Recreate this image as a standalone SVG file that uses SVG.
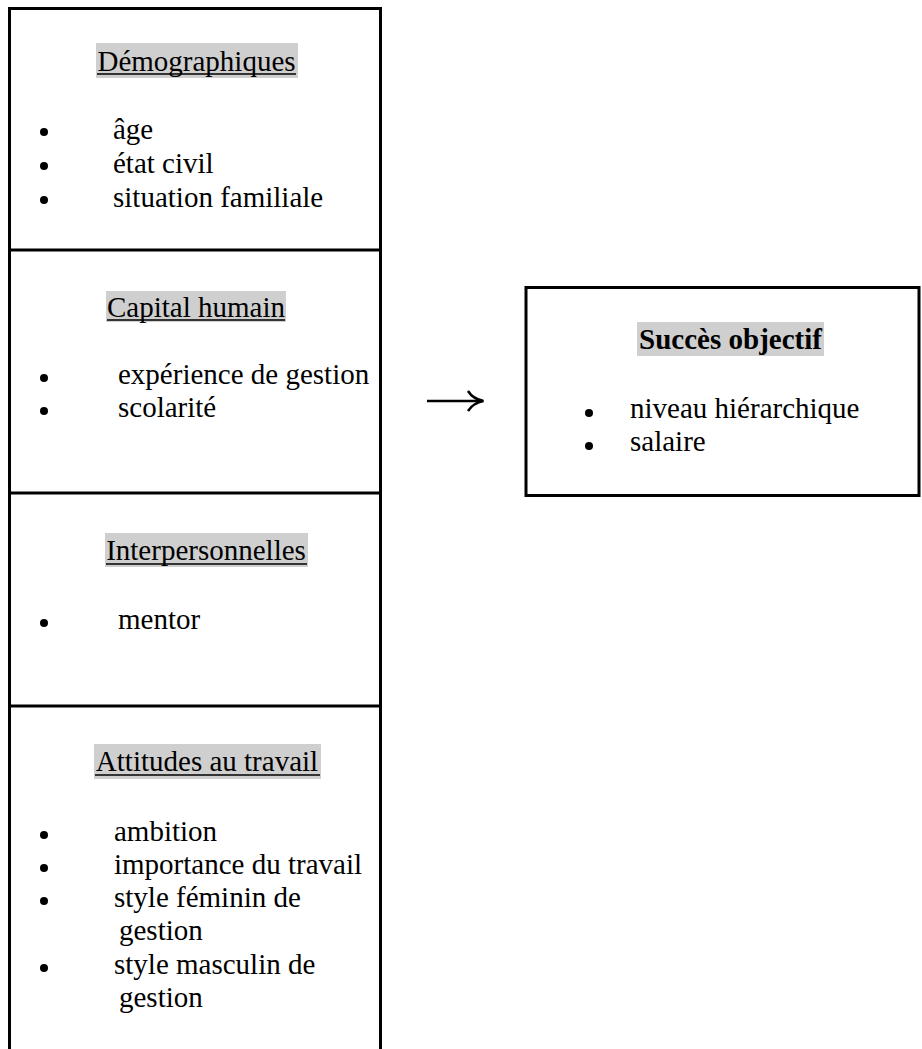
<svg xmlns="http://www.w3.org/2000/svg" width="922" height="1049" viewBox="0 0 922 1049">
<style>
.t{font-family:"Liberation Serif","Times New Roman",serif;font-size:29px;fill:#000}
.h{text-anchor:middle}
.b{font-weight:bold}
.hl{fill:#cfcfcf}
.ul{stroke:#000;stroke-width:1.5}
.box{fill:none;stroke:#000;stroke-width:3}
.dot{fill:#000}
</style>
<rect width="922" height="1049" fill="#fff"/>
<g id="box-left-frame">
<path class="box" d="M9.5 1049 V8.5 H380.5 V1049"/>
<line class="box" x1="9.5" y1="250" x2="380.5" y2="250"/>
<line class="box" x1="9.5" y1="493" x2="380.5" y2="493"/>
<line class="box" x1="9.5" y1="706" x2="380.5" y2="706"/>
</g>
<g id="demographiques">
<rect class="hl" x="96" y="43" width="202" height="35"/>
<text class="t h" x="196.5" y="71">Démographiques</text>
<line class="ul" x1="97" y1="74" x2="296" y2="74"/>
<circle class="dot" cx="44" cy="132" r="4"/>
<circle class="dot" cx="44" cy="166" r="4"/>
<circle class="dot" cx="44" cy="200" r="4"/>
<text class="t" x="113" y="139">âge</text>
<text class="t" x="113" y="173">état civil</text>
<text class="t" x="113" y="207">situation familiale</text>
</g>
<g id="capital-humain">
<rect class="hl" x="106" y="291" width="180" height="31"/>
<text class="t h" x="196" y="317">Capital humain</text>
<line class="ul" x1="107" y1="320" x2="285" y2="320"/>
<circle class="dot" cx="44" cy="378" r="4"/>
<circle class="dot" cx="44" cy="411" r="4"/>
<text class="t" x="118" y="384">expérience de gestion</text>
<text class="t" x="118" y="417">scolarité</text>
</g>
<g id="interpersonnelles">
<rect class="hl" x="105" y="533" width="203" height="34"/>
<text class="t h" x="206" y="560">Interpersonnelles</text>
<line class="ul" x1="106" y1="564" x2="307" y2="564"/>
<circle class="dot" cx="44" cy="623" r="4"/>
<text class="t" x="118" y="629">mentor</text>
</g>
<g id="attitudes-au-travail">
<rect class="hl" x="94" y="744" width="227" height="35"/>
<text class="t h" x="207" y="771">Attitudes au travail</text>
<line class="ul" x1="95" y1="775" x2="320" y2="775"/>
<circle class="dot" cx="44" cy="835" r="4"/>
<circle class="dot" cx="44" cy="868" r="4"/>
<circle class="dot" cx="44" cy="901" r="4"/>
<circle class="dot" cx="44" cy="968" r="4"/>
<text class="t" x="114" y="841">ambition</text>
<text class="t" x="114" y="874">importance du travail</text>
<text class="t" x="114" y="907">style féminin de</text>
<text class="t" x="119" y="940">gestion</text>
<text class="t" x="114" y="974">style masculin de</text>
<text class="t" x="119" y="1007">gestion</text>
</g>
<g id="connectors">
<line x1="427" y1="401" x2="482" y2="401" stroke="#000" stroke-width="2.5"/>
<path d="M468 391 Q473 399 483.5 401 Q473 403 468 411" fill="none" stroke="#000" stroke-width="2.5"/>
</g>
<g id="succes-objectif">
<rect class="box" x="526" y="287.5" width="393" height="208"/>
<rect class="hl" x="637" y="322" width="187" height="34"/>
<text class="t h b" x="730.5" y="349">Succès objectif</text>
<circle class="dot" cx="589" cy="413" r="4"/>
<circle class="dot" cx="589" cy="446" r="4"/>
<text class="t" x="630" y="418">niveau hiérarchique</text>
<text class="t" x="630" y="451">salaire</text>
</g>
</svg>
